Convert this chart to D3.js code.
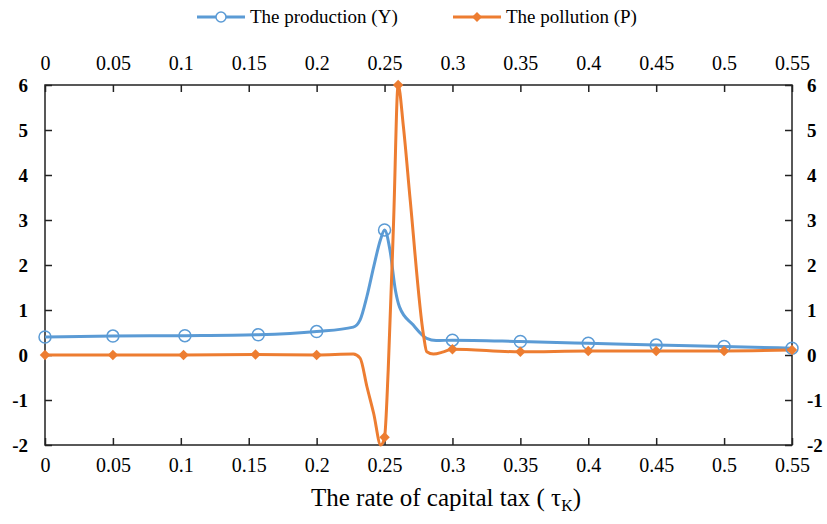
<!DOCTYPE html>
<html>
<head>
<meta charset="utf-8">
<script src="https://cdn.jsdelivr.net/npm/d3@7"></script>
<style>
  body { margin: 0; background: #fff; }
  text { font-family: "Liberation Serif", "Times New Roman", serif; fill: #000; }
</style>
</head>
<body>
<svg></svg>
<script>
const w = 827;
const h = 524;

// x ticks and y ticks
const xTicks = [0, 0.05, 0.1, 0.15, 0.2, 0.25, 0.3, 0.35, 0.4, 0.45, 0.5, 0.55];
const yTicks = [-2, -1, 0, 1, 2, 3, 4, 5, 6];

// production (Y): points with markers
const prodMarkX = [0, 0.05, 0.103, 0.157, 0.2, 0.25, 0.3, 0.35, 0.4, 0.45, 0.5, 0.55];
const prodMarkY = [0.4, 0.42, 0.43, 0.45, 0.52, 2.78, 0.33, 0.3, 0.26, 0.22, 0.19, 0.15];
// production: extra points (no marker)
const prodTraceX = [0.227, 0.232, 0.237, 0.242, 0.247, 0.254, 0.258, 0.261, 0.271, 0.281, 0.288];
const prodTraceY = [0.62, 0.78, 1.3, 1.96, 2.56, 2.33, 1.44, 1.07, 0.67, 0.37, 0.32];

// pollution (P): points with markers
const pollMarkX = [0, 0.05, 0.102, 0.155, 0.2, 0.25, 0.26, 0.3, 0.35, 0.4, 0.45, 0.5, 0.55];
const pollMarkY = [0, 0, 0, 0.01, 0, -1.83, 6.0, 0.13, 0.07, 0.09, 0.09, 0.09, 0.11];
// pollution: extra points
const pollTraceX = [0.227, 0.232, 0.237, 0.242, 0.2472, 0.2527, 0.2567, 0.2639, 0.2689, 0.2787, 0.2811, 0.286, 0.2934];
const pollTraceY = [0.02, -0.07, -0.7, -1.3, -2.0, -0.33, 3.0, 5.07, 3.44, 0.44, 0.07, 0.02, 0.07];

const blue = '#5B9BD5';
const orange = '#ED7D31';

const mLeft = 45, mRight = 792, mTop = 85, mBottom = 445;

const svg = d3.select('svg').attr('width', w).attr('height', h);

const x = d3.scaleLinear().domain([0, 0.55]).range([mLeft, mRight]);
const y = d3.scaleLinear().domain([-2, 6]).range([mBottom, mTop]);

const fmt = d => String(d);

// frame
svg.append('rect')
  .attr('x', mLeft).attr('y', mTop)
  .attr('width', mRight - mLeft).attr('height', mBottom - mTop)
  .attr('fill', 'none').attr('stroke', '#222').attr('stroke-width', 1.5);

// axes with inward ticks
const axB = svg.append('g').attr('transform', `translate(0,${mBottom})`)
  .call(d3.axisBottom(x).tickValues(xTicks).tickSize(-7).tickPadding(13).tickFormat(fmt));
const axT = svg.append('g').attr('transform', `translate(0,${mTop})`)
  .call(d3.axisTop(x).tickValues(xTicks).tickSize(-7).tickPadding(15).tickFormat(fmt));
const axL = svg.append('g').attr('transform', `translate(${mLeft},0)`)
  .call(d3.axisLeft(y).tickValues(yTicks).tickSize(-7).tickPadding(17).tickFormat(fmt));
const axR = svg.append('g').attr('transform', `translate(${mRight},0)`)
  .call(d3.axisRight(y).tickValues(yTicks).tickSize(-7).tickPadding(15).tickFormat(fmt));

[axB, axT, axL, axR].forEach(g => {
  g.select('.domain').remove();
  g.selectAll('.tick line').attr('stroke', '#222').attr('stroke-width', 1.5);
  g.selectAll('.tick text').style('font-family', '"Liberation Serif", serif').attr('fill', '#000');
});
[axB, axT].forEach(g => g.selectAll('.tick text').style('font-size', '20px'));
[axL, axR].forEach(g => g.selectAll('.tick text').style('font-size', '19px').style('font-weight', 'bold'));

// build series
function merge(mx, my, tx, ty) {
  const pts = mx.map((v, i) => [v, my[i]]).concat(tx.map((v, i) => [v, ty[i]]));
  return pts.sort((a, b) => a[0] - b[0]);
}
const prodPts = merge(prodMarkX, prodMarkY, prodTraceX, prodTraceY);
const pollPts = merge(pollMarkX, pollMarkY, pollTraceX, pollTraceY);

const line = d3.line().x(d => x(d[0])).y(d => y(d[1])).curve(d3.curveMonotoneX);

svg.append('path').datum(prodPts)
  .attr('d', line).attr('fill', 'none').attr('stroke', blue).attr('stroke-width', 3);
svg.append('path').datum(pollPts)
  .attr('d', line).attr('fill', 'none').attr('stroke', orange).attr('stroke-width', 3);

// diamond = square turned 45 degrees
const diamond = d3.symbol().type(d3.symbolSquare).size(55);

svg.selectAll('.pmark').data(prodMarkX).enter().append('circle')
  .attr('class', 'pmark')
  .attr('cx', d => x(d)).attr('cy', (d, i) => y(prodMarkY[i]))
  .attr('r', 6).attr('fill', 'none').attr('stroke', blue).attr('stroke-width', 1.5);

svg.selectAll('.qmark').data(pollMarkX).enter().append('path')
  .attr('class', 'qmark')
  .attr('d', diamond)
  .attr('transform', (d, i) => `translate(${x(d)},${y(pollMarkY[i])}) rotate(45)`)
  .attr('fill', orange);

// legend
const leg = svg.append('g');
leg.append('line').attr('x1', 197).attr('x2', 245).attr('y1', 17).attr('y2', 17)
  .attr('stroke', blue).attr('stroke-width', 3);
leg.append('circle').attr('cx', 221).attr('cy', 17).attr('r', 5)
  .attr('fill', '#fff').attr('stroke', blue).attr('stroke-width', 1.5);
leg.append('text').attr('x', 250).attr('y', 23).style('font-size', '19px').text('The production (Y)');

leg.append('line').attr('x1', 453).attr('x2', 501).attr('y1', 17).attr('y2', 17)
  .attr('stroke', orange).attr('stroke-width', 3);
leg.append('path').attr('d', d3.symbol().type(d3.symbolSquare).size(50))
  .attr('transform', 'translate(477,17) rotate(45)').attr('fill', orange);
leg.append('text').attr('x', 506).attr('y', 23).style('font-size', '19px').text('The pollution (P)');

// x title
const title = svg.append('text')
  .attr('x', 446).attr('y', 506).attr('text-anchor', 'middle')
  .style('font-size', '25px');
title.append('tspan').text('The rate of capital tax ( τ');
title.append('tspan').attr('dy', 5).style('font-size', '16px').text('K');
title.append('tspan').attr('dy', -5).text(')');
</script>
</body>
</html>
